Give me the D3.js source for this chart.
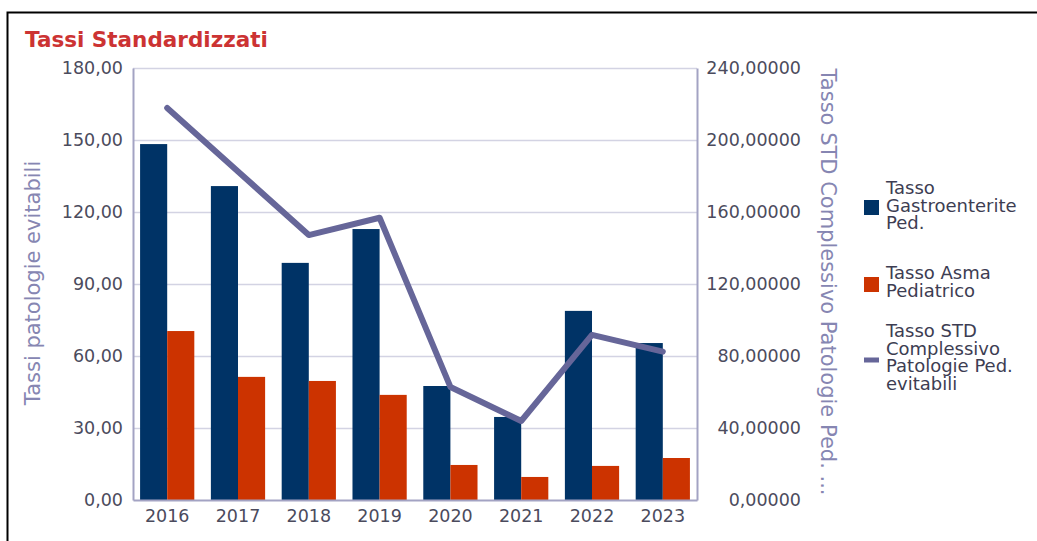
<!DOCTYPE html>
<html>
<head>
<meta charset="utf-8">
<script src="https://cdn.jsdelivr.net/npm/d3@7"></script>
<style>
  html, body { margin: 0; padding: 0; background: #fff; }
  svg { display: block; font-family: "DejaVu Sans", sans-serif; }
</style>
</head>
<body>
<svg id="chart" width="1037" height="541"></svg>
<script>
// Anni e serie
const years = ["2016", "2017", "2018", "2019", "2020", "2021", "2022", "2023"];
const gastroenterite = [148.3, 130.8, 98.8, 112.9, 47.5, 34.6, 78.8, 65.4];
const asma = [70.4, 51.3, 49.6, 43.8, 14.6, 9.6, 14.2, 17.5];
const complessivo = [217.8, 182.5, 147.2, 156.8, 62.8, 43.9, 91.7, 82.4];
const leftTicks = [0, 30, 60, 90, 120, 150, 180];
const rightTicks = [0, 40, 80, 120, 160, 200, 240];
const seriesNames = ["Tasso Gastroenterite Ped.", "Tasso Asma Pediatrico", "Tasso STD Complessivo Patologie Ped. evitabili"];

const colBlue = "#003366", colOrange = "#cc3300", colLine = "#666699";
const tickColor = "#4b4b5d", titleAxisColor = "#8686b2", gridColor = "#d3d3e3", axisColor = "#a3a3c3";

const it = d3.formatLocale({ decimal: ",", thousands: ".", grouping: [3], currency: ["€", ""] });
const fmt2 = it.format(".2f"), fmt5 = it.format(".5f");

const svg = d3.select("#chart");
const plot = { left: 133, right: 697, top: 68, bottom: 500 };

// cornice
svg.append("rect").attr("x", 7.5).attr("y", 12.5).attr("width", 1100).attr("height", 600)
  .attr("fill", "none").attr("stroke", "#000").attr("stroke-width", 2);

// titolo
svg.append("text").attr("x", 25).attr("y", 47).attr("fill", "#cc3333")
  .attr("font-weight", "bold").attr("font-size", 21.5).text("Tassi Standardizzati");

const x = d3.scaleBand().domain(years).range([plot.left, plot.right]).paddingInner(0.234).paddingOuter(0.1);
const x1 = d3.scaleBand().domain([0, 1]).range([0, x.bandwidth()]);
const yL = d3.scaleLinear().domain([0, 180]).range([plot.bottom, plot.top]);
const yR = d3.scaleLinear().domain([0, 240]).range([plot.bottom, plot.top]);

// griglia
svg.append("g").selectAll("line").data(leftTicks.filter(d => d > 0)).join("line")
  .attr("x1", plot.left).attr("x2", plot.right)
  .attr("y1", d => Math.round(yL(d)) + 0.5).attr("y2", d => Math.round(yL(d)) + 0.5)
  .attr("stroke", gridColor).attr("stroke-width", 1.5);

// barre
const groups = svg.append("g").selectAll("g").data(years).join("g")
  .attr("transform", d => `translate(${x(d)},0)`);
groups.append("rect").attr("x", x1(0)).attr("width", x1.bandwidth())
  .attr("y", (d, i) => yL(gastroenterite[i])).attr("height", (d, i) => yL(0) - yL(gastroenterite[i]))
  .attr("fill", colBlue);
groups.append("rect").attr("x", x1(1)).attr("width", x1.bandwidth())
  .attr("y", (d, i) => yL(asma[i])).attr("height", (d, i) => yL(0) - yL(asma[i]))
  .attr("fill", colOrange);

// assi
const axL = svg.append("g").attr("transform", `translate(${plot.left},0)`)
  .call(d3.axisLeft(yL).tickValues(leftTicks).tickFormat(fmt2).tickSize(0).tickPadding(10));
const axR = svg.append("g").attr("transform", `translate(${plot.right},0)`)
  .call(d3.axisRight(yR).tickValues(rightTicks).tickFormat(fmt5).tickSize(0).tickPadding(9));
const axB = svg.append("g").attr("transform", `translate(0,${plot.bottom})`)
  .call(d3.axisBottom(x).tickSize(0).tickPadding(10));
[axL, axR, axB].forEach(a => {
  a.select(".domain").attr("stroke", axisColor).attr("stroke-width", 2);
  a.selectAll("text").attr("fill", tickColor).attr("font-size", 17.5).attr("font-family", "DejaVu Sans");
});
axR.selectAll("text").attr("text-anchor", "end").attr("x", 104);

// linea complessiva
const line = d3.line().x((d, i) => x(years[i]) + x.bandwidth() / 2).y(d => yR(d));
svg.append("path").datum(complessivo).attr("d", line).attr("fill", "none")
  .attr("stroke", colLine).attr("stroke-width", 6).attr("stroke-linejoin", "round").attr("stroke-linecap", "round");

// titoli assi
svg.append("text").attr("transform", `translate(40,${(plot.top + plot.bottom) / 2 - 1}) rotate(-90)`)
  .attr("text-anchor", "middle").attr("fill", titleAxisColor).attr("font-size", 21)
  .text("Tassi patologie evitabili");
svg.append("text").attr("transform", `translate(821,${(plot.top + plot.bottom) / 2 - 2}) rotate(90)`)
  .attr("text-anchor", "middle").attr("fill", titleAxisColor).attr("font-size", 21)
  .text("Tasso STD Complessivo Patologie Ped. ...");

// legenda
const legendItems = [
  { lines: ["Tasso", "Gastroenterite", "Ped."], y: 194, type: "rect", color: colBlue, my: 200 },
  { lines: ["Tasso Asma", "Pediatrico"], y: 279, type: "rect", color: colOrange, my: 277 },
  { lines: ["Tasso STD", "Complessivo", "Patologie Ped.", "evitabili"], y: 337, type: "line", color: colLine, my: 360 }
];
const lg = svg.append("g");
legendItems.forEach((it, k) => {
  if (it.type === "rect") {
    lg.append("rect").attr("x", 864).attr("y", it.my).attr("width", 15).attr("height", 15).attr("fill", it.color);
  } else {
    lg.append("rect").attr("x", 864).attr("y", it.my - 2.5).attr("width", 15).attr("height", 5).attr("fill", it.color);
  }
  const t = lg.append("text").attr("x", 886).attr("y", it.y).attr("fill", "#3d3d52").attr("font-size", 18);
  it.lines.forEach((s, j) => t.append("tspan").attr("x", 886).attr("dy", j === 0 ? 0 : 17.5).text(s));
});
</script>
</body>
</html>
